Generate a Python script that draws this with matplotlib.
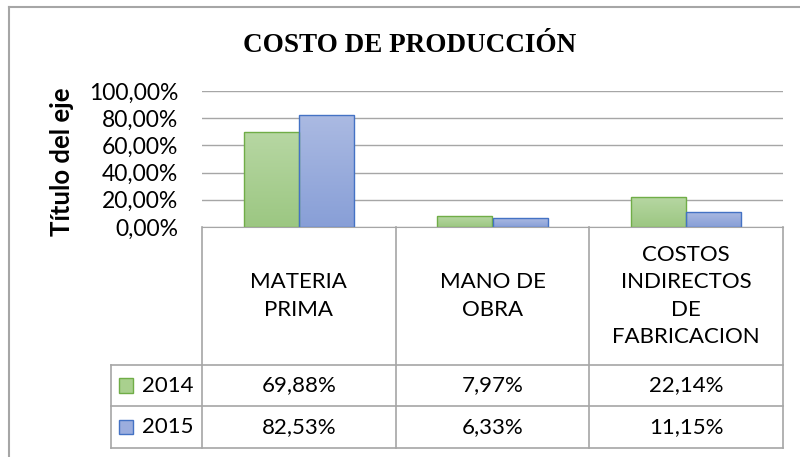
import matplotlib.pyplot as plt
import matplotlib.transforms as mtransforms
from matplotlib.colors import LinearSegmentedColormap
import numpy as np

# datos
categorias = ['MATERIA\nPRIMA', 'MANO DE\nOBRA', 'COSTOS\nINDIRECTOS\nDE\nFABRICACION']
anios = ['2014', '2015']
valores_2014 = [69.88, 7.97, 22.14]
valores_2015 = [82.53, 6.33, 11.15]
ticks_y = [0, 20, 40, 60, 80, 100]

verde, verde_borde = '#a9d08e', '#70ad47'
azul, azul_borde = '#9badde', '#4472c4'
grad_verde = LinearSegmentedColormap.from_list('gv', ['#9cc782', '#b7d7a3'])
grad_azul = LinearSegmentedColormap.from_list('ga', ['#889fd7', '#abbae2'])
gris = '#a6a6a6'

fig = plt.figure(figsize=(8, 4.57), dpi=100)
W, H = 800, 457

# borde del grafico (recortado a la derecha y abajo)
fig.add_artist(plt.Line2D([9 / W, 9 / W], [0, 1 - 7 / H], color=gris, lw=1.5))
fig.add_artist(plt.Line2D([9 / W, 1], [1 - 7 / H, 1 - 7 / H], color=gris, lw=1.5))

ax = fig.add_axes([202 / W, 1 - 227 / H, 581 / W, 136 / H])
x = np.arange(len(categorias))
ancho = 0.285
b1 = ax.bar(x - ancho / 2, valores_2014, ancho, color=verde, edgecolor=verde_borde, lw=1, zorder=3)
b2 = ax.bar(x + ancho / 2, valores_2015, ancho, color=azul, edgecolor=azul_borde, lw=1, zorder=3)

# relleno degradado como en Excel
grad = np.linspace(0, 1, 100).reshape(-1, 1)
for barras, cmap in [(b1, grad_verde), (b2, grad_azul)]:
    for p in barras:
        x0, y0 = p.get_x(), p.get_y()
        im = ax.imshow(grad, cmap=cmap, origin='lower', aspect='auto', zorder=3.5,
                       extent=[x0, x0 + p.get_width(), y0, y0 + p.get_height()])
        im.set_clip_path(p)
        p.set_facecolor('none')
        p.set_zorder(4)
ax.set_aspect('auto')
ax.set_xlim(-0.5, len(categorias) - 0.5)
ax.set_ylim(0, 100)

ax.set_yticks(ticks_y)
ax.set_yticklabels(['{:.2f}%'.format(t).replace('.', ',') for t in ticks_y], family='Lato', fontsize=16.5)
ax.tick_params(axis='y', length=0, pad=17)
ax.set_xticks([])
ax.grid(axis='y', color=gris, lw=1, zorder=0)
for s in ['left', 'right', 'top']:
    ax.spines[s].set_visible(False)
ax.spines['bottom'].set_color(gris)
ax.spines['bottom'].set_zorder(5)

fig.text(62 / W, 1 - 162 / H, 'Título del eje', family='Lato', fontweight='bold', fontsize=18.5,
         rotation=90, ha='center', va='center')
fig.text(410 / W, 1 - 45 / H, 'COSTO DE PRODUCCIÓN', family='Liberation Serif', fontweight='bold',
         fontsize=19.5, ha='center', va='center')

# tabla de datos debajo del eje
tr = mtransforms.blended_transform_factory(ax.transData, ax.transAxes)
fila_cab, fila_1, fila_2 = -1.015, -1.316, -1.625
izq_leyenda = -0.97
kw = dict(color=gris, lw=1.2, transform=tr, clip_on=False)
for xc in np.arange(len(categorias) + 1) - 0.5:
    ax.plot([xc, xc], [0, fila_2], **kw)
ax.plot([izq_leyenda, izq_leyenda], [fila_cab, fila_2], **kw)
for yf in [fila_cab, fila_1, fila_2]:
    ax.plot([izq_leyenda, len(categorias) - 0.5], [yf, yf], **kw)

for i, cat in enumerate(categorias):
    ax.text(i, fila_cab / 2, cat, transform=tr, ha='center', va='center', family='Lato',
            fontsize=16, linespacing=1.45)
for yf0, yf1, anio, vals, c, cb in [(fila_cab, fila_1, anios[0], valores_2014, verde, verde_borde),
                                     (fila_1, fila_2, anios[1], valores_2015, azul, azul_borde)]:
    ym = (yf0 + yf1) / 2
    for i, v in enumerate(vals):
        ax.text(i, ym, '{:.2f}%'.format(v).replace('.', ','), transform=tr, ha='center', va='center',
                family='Lato', fontsize=16)
    ax.add_patch(plt.Rectangle((izq_leyenda + 0.04, ym - 0.055), 0.075, 0.11, transform=tr,
                               facecolor=c, edgecolor=cb, lw=1, clip_on=False))
    ax.text(izq_leyenda + 0.16, ym, anio, transform=tr, ha='left', va='center', family='Lato', fontsize=16)

fig.savefig('out.png', dpi=100)
